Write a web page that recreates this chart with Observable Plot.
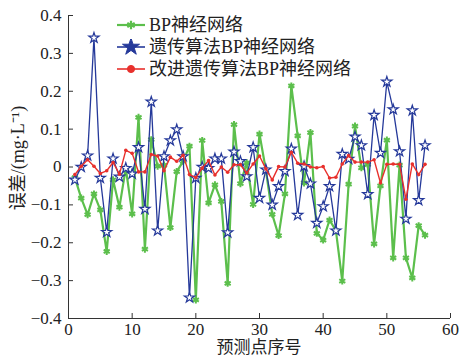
<!DOCTYPE html>
<html><head><meta charset="utf-8">
<script src="https://cdn.jsdelivr.net/npm/d3@7"></script>
<script src="https://cdn.jsdelivr.net/npm/@observablehq/plot@0.6"></script>
<style>
body{margin:0;background:#fff;}
#chart{position:relative;width:462px;height:362px;font-family:"Liberation Serif","Noto Sans CJK SC",serif;color:#222;}
.legend{position:absolute;left:116px;top:14px;font-size:18px;line-height:22px;}
.legend div{display:flex;align-items:center;height:22px;white-space:nowrap;}
.legend svg{margin-right:3px;}
.xlab{position:absolute;left:0;width:518px;text-align:center;top:339px;font-size:17px;line-height:18px;}
.ylab{position:absolute;left:18px;top:158px;font-size:18px;line-height:22px;white-space:nowrap;transform:translate(-50%,-50%) rotate(-90deg);}
</style></head>
<body><div id="chart"></div>
<script>
const idx = d3.range(1, 57);
const bpNames = ["BP神经网络", "遗传算法BP神经网络", "改进遗传算法BP神经网络"];
const bpValues = [-0.028,-0.082,-0.126,-0.071,-0.113,-0.223,-0.034,-0.106,-0.003,-0.124,0.131,-0.217,0.072,0.002,0.005,-0.160,-0.012,0.015,0.055,-0.351,0.070,-0.095,-0.047,-0.091,-0.307,0.112,-0.044,0.011,-0.099,0.087,-0.008,-0.125,-0.181,-0.071,0.214,0.082,-0.042,0.091,-0.175,-0.193,-0.140,-0.168,-0.301,-0.045,0.108,-0.002,0.007,-0.203,-0.050,0.071,-0.240,0.005,-0.240,-0.293,-0.155,-0.180];
const gaValues = [-0.034,0.000,0.030,0.341,-0.029,-0.172,0.022,-0.026,-0.003,-0.018,0.052,-0.111,0.172,-0.168,0.028,0.070,0.099,0.028,-0.345,-0.029,0.000,-0.003,0.022,0.022,-0.173,0.040,0.015,-0.025,0.052,-0.082,-0.007,-0.100,-0.051,-0.011,0.048,-0.127,0.002,-0.044,-0.148,-0.104,-0.051,-0.168,0.034,0.021,0.080,0.057,-0.072,0.137,0.037,0.225,0.152,0.041,-0.137,0.149,-0.088,0.057];
const igaValues = [-0.020,0.002,0.019,0.002,-0.017,-0.010,0.012,-0.019,0.044,0.036,-0.013,-0.013,0.033,0.029,-0.010,0.026,0.015,0.031,-0.020,-0.028,-0.003,0.017,-0.021,0.000,-0.014,0.006,0.006,-0.016,0.008,0.029,-0.005,-0.034,0.001,0.000,0.039,0.010,0.008,0.000,-0.002,0.001,-0.029,-0.027,0.008,0.030,0.013,0.013,0.013,0.019,-0.042,0.007,0.008,0.007,-0.085,0.008,-0.020,0.007];
const xTicks = [0,10,20,30,40,50,60];
const yTicks = [-0.4,-0.3,-0.2,-0.1,0,0.1,0.2,0.3,0.4];
const xLabel = "预测点序号";
const yLabel = "误差/(mg·L⁻¹)";

const colors = ["#5cbf4c", "#25399a", "#e8302c"];
const toRows = vals => idx.map((i, k) => ({i, v: vals[k]}));
const bp = toRows(bpValues), ga = toRows(gaValues), iga = toRows(igaValues);
const yfmt = d => d === 0 ? "0" : d3.format(".1f")(d).replace("-", "−");

const chart = Plot.plot({
  width: 462, height: 362,
  marginLeft: 68, marginRight: 12, marginTop: 15, marginBottom: 44,
  style: {fontFamily: '"Liberation Serif","Noto Sans CJK SC",serif', fontSize: "17px", background: "#fff", color: "#222"},
  x: {domain: [0, 60]},
  y: {domain: [-0.4, 0.4]},
  marks: [
    Plot.ruleX([0], {stroke: "#333", strokeWidth: 1}),
    Plot.ruleY([-0.4], {stroke: "#333", strokeWidth: 1}),
    Plot.axisX({ticks: xTicks, tickSize: -5, tickPadding: 9, stroke: "#333", label: null, fontSize: 17}),
    Plot.axisY({ticks: yTicks, tickFormat: yfmt, tickSize: -5, tickPadding: 12, stroke: "#333", label: null, fontSize: 17}),
    Plot.line(bp, {x: "i", y: "v", stroke: colors[0], strokeWidth: 2.2}),
    Plot.dot(bp, {x: "i", y: "v", symbol: "asterisk", r: 3.3, stroke: colors[0], strokeWidth: 2}),
    Plot.line(ga, {x: "i", y: "v", stroke: colors[1], strokeWidth: 1.3}),
    Plot.dot(ga, {x: "i", y: "v", symbol: "star", r: 3.2, fill: "white", stroke: colors[1], strokeWidth: 1.2}),
    Plot.line(iga, {x: "i", y: "v", stroke: colors[2], strokeWidth: 1.4}),
    Plot.dot(iga, {x: "i", y: "v", r: 1.8, fill: colors[2], stroke: "none"})
  ]
});
const root = document.getElementById("chart");
root.appendChild(chart);

const xl = document.createElement("div"); xl.className = "xlab"; xl.textContent = xLabel; root.appendChild(xl);
const yl = document.createElement("div"); yl.className = "ylab"; yl.textContent = yLabel; root.appendChild(yl);

const legend = document.createElement("div");
legend.className = "legend";
const syms = [d3.symbolAsterisk, d3.symbolStar, d3.symbolCircle];
bpNames.forEach((name, k) => {
  const row = document.createElement("div");
  const sw = d3.create("svg").attr("width", 30).attr("height", 16);
  sw.append("line").attr("x1", 1).attr("x2", 29).attr("y1", 8).attr("y2", 8).attr("stroke", colors[k]).attr("stroke-width", k === 0 ? 2.2 : 1.6);
  const size = k === 0 ? 50 : k === 1 ? 90 : 40;
  sw.append("path").attr("transform", "translate(15,8)").attr("d", d3.symbol(syms[k], size)())
    .attr("fill", k === 0 ? "none" : colors[k]).attr("stroke", colors[k]).attr("stroke-width", k === 0 ? 2.2 : 1);
  row.appendChild(sw.node());
  const t = document.createElement("span");
  t.textContent = name;
  row.appendChild(t);
  legend.appendChild(row);
});
root.appendChild(legend);
</script></body></html>
